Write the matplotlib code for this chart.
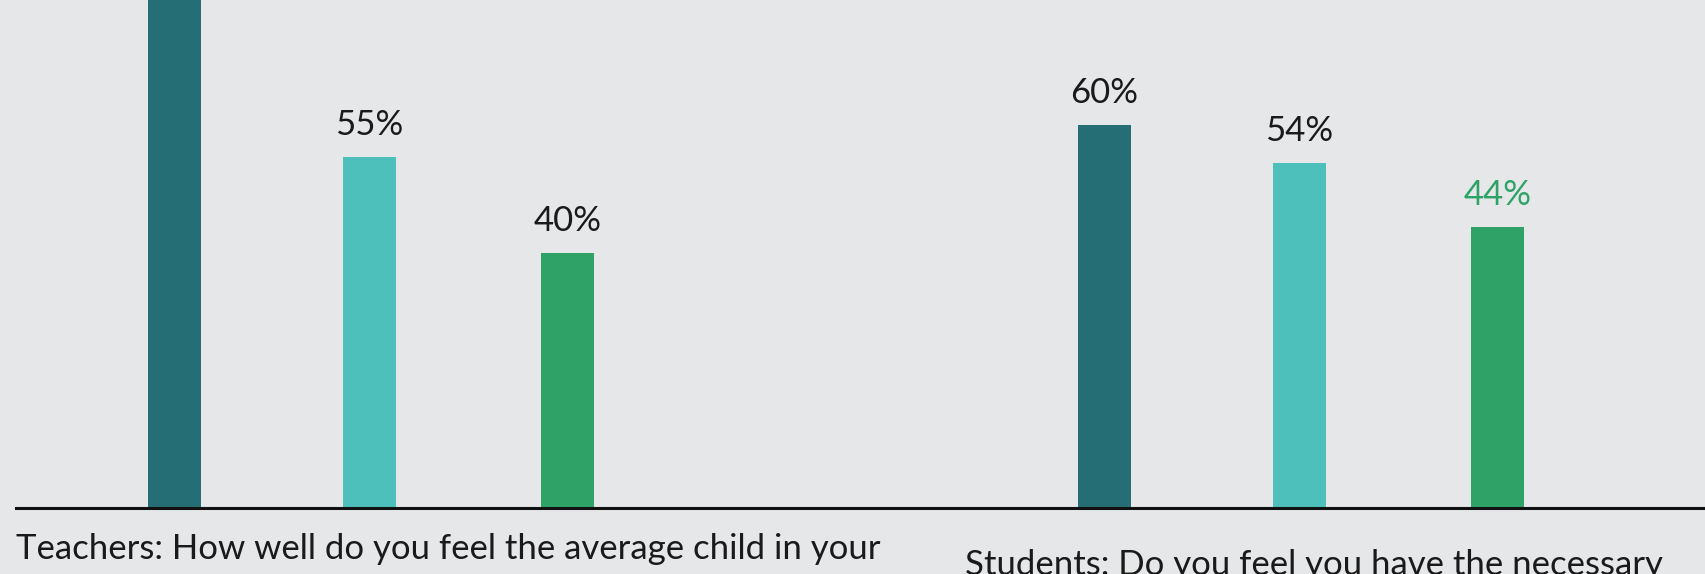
import numpy as np
import matplotlib
matplotlib.use("Agg")
import matplotlib.pyplot as plt

plt.rcParams['font.family'] = ['Lato', 'DejaVu Sans']

# data
groups = ["Teachers: How well do you feel the average child in your",
          "Students: Do you feel you have the necessary"]
series_a = [86, 60]   # first bar of group 1 runs off the top of the chart
series_b = [55, 54]
series_c = [40, 44]
labels_a = ["86%", "60%"]
labels_b = ["55%", "54%"]
labels_c = ["40%", "44%"]

bg = "#e6e7e9"
col_a = "#256e76"
col_b = "#4dc0bb"
col_c = "#2fa367"
ymax = 79.6

fig = plt.figure(figsize=(17.05, 5.74), dpi=100, facecolor=bg)
ax = fig.add_axes([16 / 1705, 66 / 574, 1 - 16 / 1705, 508 / 574])
ax.set_facecolor(bg)

x = np.arange(len(groups))
offsets = [-0.21, 0.0, 0.213]
w = 0.057

for off, vals, labs, col, tcol in [
    (offsets[0], series_a, labels_a, col_a, ["#1a1a1a", "#1a1a1a"]),
    (offsets[1], series_b, labels_b, col_b, ["#1a1a1a", "#1a1a1a"]),
    (offsets[2], series_c, labels_c, col_c, ["#1a1a1a", col_c]),
]:
    bars = ax.bar(x + off, vals, width=w, color=col, zorder=2)
    for b, lab, tc in zip(bars, labs, tcol):
        if b.get_height() > ymax:
            continue  # label sits above the visible area
        ax.annotate(lab, (b.get_x() + b.get_width() / 2, b.get_height()),
                    xytext=(0, 16), textcoords="offset points",
                    ha="center", va="baseline", fontsize=25,
                    color=tc)

ax.set_xlim(-0.380, 1.436)
ax.set_ylim(0, ymax)
for s in ["top", "right", "left"]:
    ax.spines[s].set_visible(False)
ax.spines["bottom"].set_color("#111111")
ax.spines["bottom"].set_linewidth(2.2)
ax.spines["bottom"].set_zorder(3)
ax.set_yticks([])
ax.set_xticks([])

# category labels (first line, cut off by the figure edge)
fig.text(16 / 1705, 1 - 533 / 574, groups[0], ha="left", va="top",
         fontsize=25, color="#1a1a1a")
fig.text(965 / 1705, 1 - 549 / 574, groups[1], ha="left", va="top",
         fontsize=25, color="#1a1a1a")

fig.savefig("out.png", dpi=100, facecolor=bg)
